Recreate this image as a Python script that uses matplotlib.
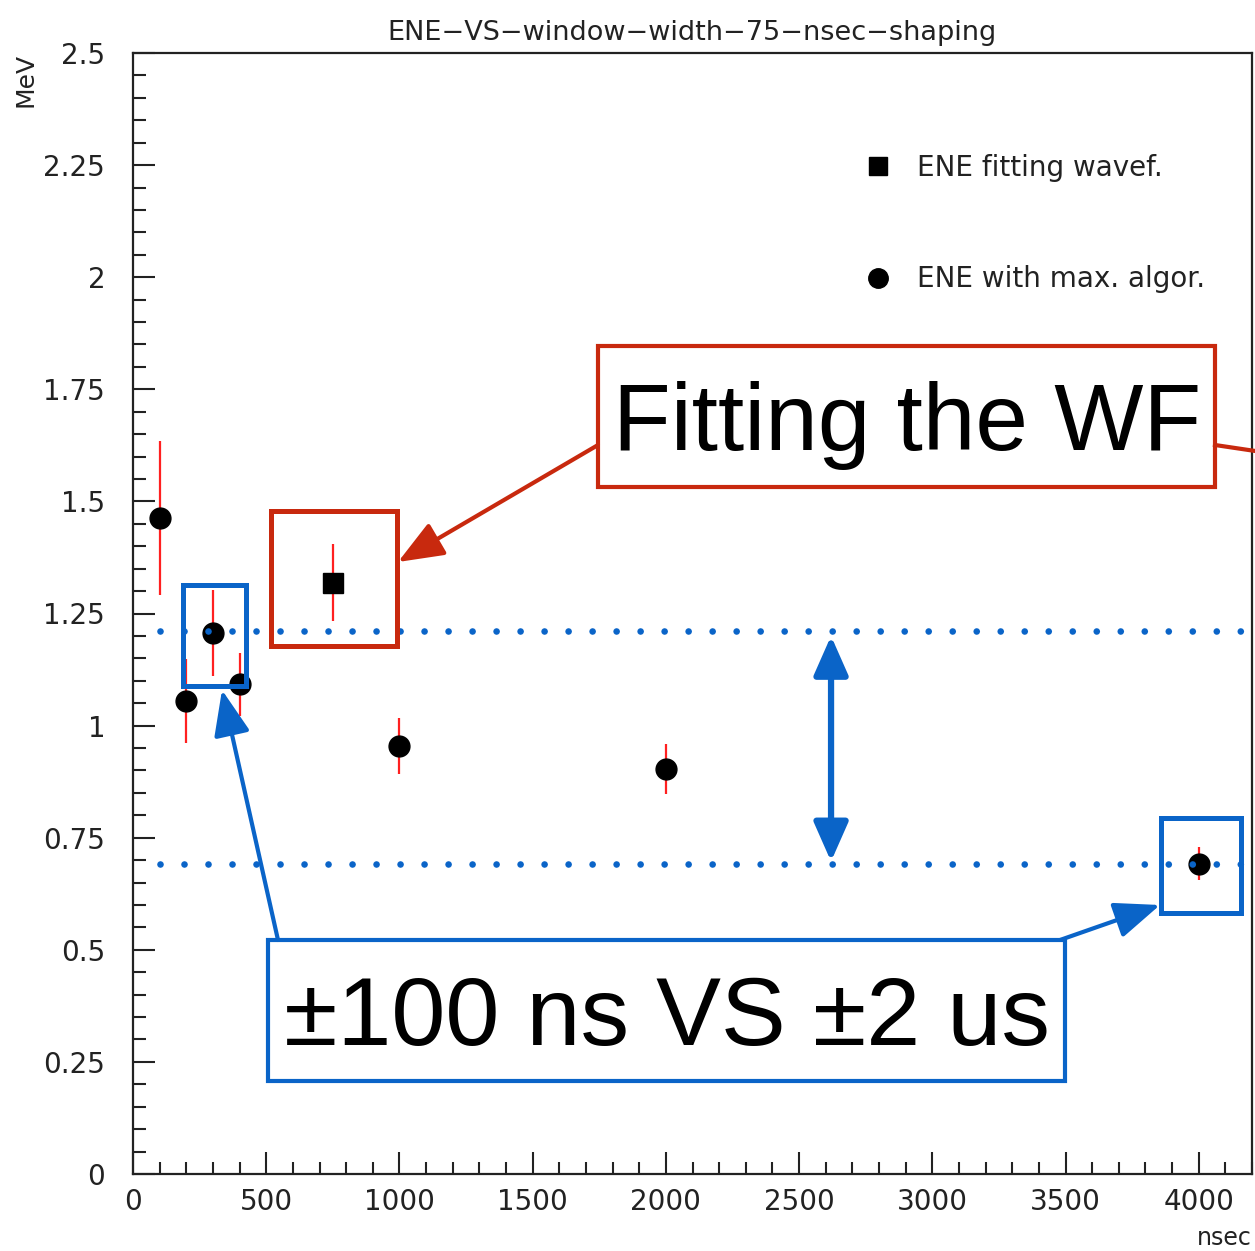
import matplotlib
matplotlib.use("Agg")
import matplotlib.pyplot as plt
from matplotlib.patches import Rectangle, FancyArrowPatch
from matplotlib.lines import Line2D
from matplotlib.ticker import MultipleLocator

# data
max_x = [100, 200, 300, 400, 1000, 2000, 4000]
max_y = [1.463, 1.055, 1.207, 1.092, 0.955, 0.903, 0.692]
max_err = [0.171, 0.094, 0.096, 0.070, 0.063, 0.056, 0.037]

fit_x = [750]
fit_y = [1.319]
fit_err = [0.085]

ref_levels = [1.21, 0.692]   # the two dotted guide lines
arrow_x = 2620              # double arrow between them

W, H = 1255, 1251
RED = "#c8290e"
BLUE = "#0a64c8"
ROOT_FONT = ["DejaVu Sans"]
BIG_FONT = ["Liberation Sans", "DejaVu Sans"]


def px(x, y):
    # pixel (from top-left) -> figure fraction
    return x / W, 1 - y / H


fig = plt.figure(figsize=(W / 100, H / 100), dpi=100)
l, t = px(133, 53)
r, b = px(1252, 1174)
ax = fig.add_axes([l, b, r - l, t - b])

ax.errorbar(max_x, max_y, yerr=max_err, fmt="o", color="black", ms=15,
            ecolor="#ff2020", elinewidth=1.6, capsize=0, zorder=3)
ax.errorbar(fit_x, fit_y, yerr=fit_err, fmt="s", color="black", ms=14,
            ecolor="#ff2020", elinewidth=1.6, capsize=0, zorder=3)

ax.set_xlim(0, 4200)
ax.set_ylim(0, 2.5)
ax.xaxis.set_major_locator(MultipleLocator(500))
ax.xaxis.set_minor_locator(MultipleLocator(100))
ax.yaxis.set_major_locator(MultipleLocator(0.25))
ax.yaxis.set_minor_locator(MultipleLocator(0.05))
ax.set_yticks([0, 0.25, 0.5, 0.75, 1, 1.25, 1.5, 1.75, 2, 2.25, 2.5])
ax.set_yticklabels(["0", "0.25", "0.5", "0.75", "1", "1.25", "1.5",
                    "1.75", "2", "2.25", "2.5"])
ax.tick_params(which="both", direction="in", width=1.5, colors="#222222",
               labelsize=20, top=False, right=False)
ax.tick_params(which="major", length=16)
ax.tick_params(which="minor", length=9)
ax.tick_params(axis="y", pad=20)
ax.tick_params(axis="x", pad=10)
for lab in ax.get_xticklabels() + ax.get_yticklabels():
    lab.set_family(ROOT_FONT)
for s in ax.spines.values():
    s.set_linewidth(1.6)
    s.set_color("#222222")

ax.set_title("ENE\u2212VS\u2212window\u2212width\u221275\u2212nsec\u2212shaping",
             family=ROOT_FONT, fontsize=19.5, pad=9, color="#222222")
ax.set_ylabel("MeV", family=ROOT_FONT, fontsize=18, loc="top", color="#222222")
ax.yaxis.set_label_coords(-0.085, 1.0)
ax.set_xlabel("nsec", family=ROOT_FONT, fontsize=17, loc="right", color="#222222")
ax.xaxis.set_label_coords(1.0, -0.046)

# legend
handles = [Line2D([], [], ls="none", marker="s", color="black", ms=13),
           Line2D([], [], ls="none", marker="o", color="black", ms=14)]
leg = ax.legend(handles, ["ENE fitting wavef.", "ENE with max. algor."],
                loc="upper left", bbox_to_anchor=px(839, 129),
                bbox_transform=fig.transFigure, frameon=False,
                prop={"family": ROOT_FONT, "size": 20},
                labelspacing=3.0, handletextpad=0.9, handlelength=1.0)
for txt in leg.get_texts():
    txt.set_color("#222222")

# dotted guide lines
for lvl in ref_levels:
    ax.plot([100, 4200], [lvl, lvl], color=BLUE, lw=4.8,
            ls=(0, (0.001, 3.6)), dash_capstyle="round", clip_on=False,
            zorder=4)

# double arrow between levels
ax.annotate("", xy=(arrow_x, ref_levels[1] + 0.005),
            xytext=(arrow_x, ref_levels[0] - 0.01),
            arrowprops=dict(arrowstyle="<|-|>,head_length=1.7,head_width=0.75",
                            color=BLUE, lw=4.5, mutation_scale=14,
                            shrinkA=0, shrinkB=0), zorder=5)


def box(x0, y0, x1, y1, color, lw):
    fx0, fy1 = px(x0, y0)
    fx1, fy0 = px(x1, y1)
    fig.add_artist(Rectangle((fx0, fy0), fx1 - fx0, fy1 - fy0, fill=False,
                             ec=color, lw=lw, transform=fig.transFigure,
                             zorder=6))


def arrow(p0, p1, color, lw):
    fig.add_artist(FancyArrowPatch(px(*p0), px(*p1), transform=fig.transFigure,
                                   arrowstyle="-|>,head_length=2.0,head_width=0.8",
                                   mutation_scale=14, color=color, lw=lw,
                                   shrinkA=0, shrinkB=0, zorder=6))


# red call-out
box(271, 511, 397, 646, RED, 3.6)
box(598, 346, 1215, 487, RED, 3.0)
arrow((598, 445), (398, 562), RED, 3.0)
fig.add_artist(Line2D([px(1215, 445)[0], px(1262, 452)[0]],
                      [px(1215, 445)[1], px(1262, 452)[1]], color=RED, lw=3.0,
                      transform=fig.transFigure, zorder=6))
fig.text(*px(907, 450), "Fitting the WF", family=BIG_FONT, fontsize=68,
         ha="center", va="baseline", zorder=7)

# blue call-out
box(183, 585, 246, 686, BLUE, 3.6)
box(1161, 818, 1241, 913, BLUE, 3.6)
box(268, 940, 1065, 1081, BLUE, 3.0)
arrow((278, 940), (222, 690), BLUE, 3.0)
arrow((1060, 940), (1160, 905), BLUE, 3.0)
fig.text(*px(667, 1045), "\u00b1100 ns VS \u00b12 us", family=BIG_FONT,
         fontsize=70, ha="center", va="baseline", zorder=7)

fig.savefig("out.png", dpi=100)
